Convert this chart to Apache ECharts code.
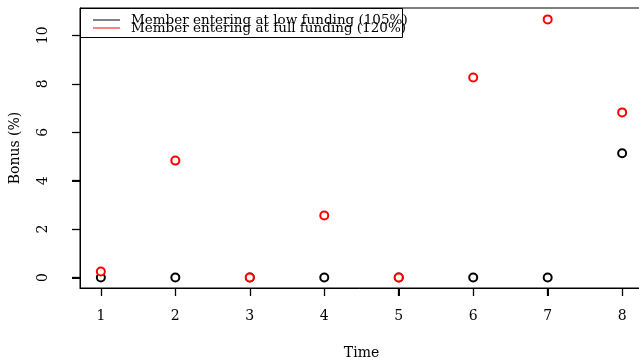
<!DOCTYPE html>
<html><head><meta charset="utf-8">
<script src="https://cdn.jsdelivr.net/npm/echarts@6/dist/echarts.min.js"></script>
<style>html,body{margin:0;padding:0;background:#fff}#c{width:639px;height:362px}</style>
</head><body><div id="c"></div>
<script>
var times = [1, 2, 3, 4, 5, 6, 7, 8];
var lowFunding = [0, 0, 0, 0, 0, 0, 0, 5.13];
var fullFunding = [0.25, 4.83, 0, 2.56, 0, 8.26, 10.66, 6.82];
var xTicks = [1, 2, 3, 4, 5, 6, 7, 8];
var yTicks = [0, 2, 4, 6, 8, 10];
var seriesNames = ['Member entering at low funding (105%)', 'Member entering at full funding (120%)'];

var FONT = 'DejaVu Serif';
var chart = echarts.init(document.getElementById('c'), null, {renderer: 'canvas'});
function pairs(v) { return times.map(function (t, i) { return [t, v[i]]; }); }
function legendOf(name, color, top) {
  return {
    show: true, left: 93, top: top, padding: 0, orient: 'vertical',
    data: [{name: name, icon: 'rect', itemStyle: {color: color, borderWidth: 0, opacity: 1}}],
    itemWidth: 27, itemHeight: 1, itemGap: 0, selectedMode: false,
    textStyle: {fontFamily: FONT, fontSize: 13.5, color: '#000', padding: [0, 0, 0, 6], lineHeight: 14}
  };
}
chart.setOption({
  animation: false,
  backgroundColor: '#fff',
  grid: {left: 80, top: 8, width: 563, height: 280, show: true, borderColor: '#000', borderWidth: 1,
         backgroundColor: 'transparent', containLabel: false, outerBoundsMode: 'none'},
  xAxis: {
    type: 'value', min: 0.72, max: 8.28,
    name: 'Time', nameLocation: 'middle', nameGap: 58,
    nameTextStyle: {fontFamily: FONT, fontSize: 14, color: '#000'},
    axisLine: {show: true, onZero: false, lineStyle: {color: '#000', width: 1}}, splitLine: {show: false},
    axisTick: {show: true, inside: false, length: 8, lineStyle: {color: '#000', width: 1.3}, customValues: xTicks},
    axisLabel: {fontFamily: FONT, fontSize: 14, color: '#000', margin: 21, customValues: xTicks}
  },
  yAxis: {
    type: 'value', min: -0.43, max: 11.13,
    name: 'Bonus (%)', nameLocation: 'middle', nameGap: 58, nameRotate: 90,
    nameTextStyle: {fontFamily: FONT, fontSize: 14, color: '#000'},
    axisLine: {show: true, onZero: false, lineStyle: {color: '#000', width: 1}}, splitLine: {show: false},
    axisTick: {show: true, inside: false, length: 8, lineStyle: {color: '#000', width: 1.3}, customValues: yTicks},
    axisLabel: {fontFamily: FONT, fontSize: 14, color: '#000', margin: 30, rotate: 90, customValues: yTicks}
  },
  graphic: [{type: 'rect', shape: {x: 80.5, y: 8.5, width: 322, height: 29}, style: {fill: 'none', stroke: '#000', lineWidth: 1}, z: 10}],
  legend: [legendOf(seriesNames[0], '#000', 13), legendOf(seriesNames[1], '#ff0000', 21)],
  series: [
    {name: seriesNames[0], type: 'scatter', data: pairs(lowFunding), symbol: 'emptyCircle', symbolSize: 8,
     itemStyle: {color: '#000', borderColor: '#000', borderWidth: 1, opacity: 1}},
    {name: seriesNames[1], type: 'scatter', data: pairs(fullFunding), symbol: 'emptyCircle', symbolSize: 8,
     itemStyle: {color: '#ff0000', borderColor: '#ff0000', borderWidth: 1, opacity: 1}},
    {type: 'custom', silent: true, clip: false, z: 1, coordinateSystem: 'cartesian2d',
     data: xTicks.map(function (t) { return [t, -0.43]; }),
     renderItem: function (params, api) {
       var p = api.coord([api.value(0), api.value(1)]);
       var x = Math.round(p[0]) + 0.5, y = Math.round(p[1]);
       return {type: 'line', shape: {x1: x, y1: y, x2: x, y2: y + 8}, style: {stroke: '#000', lineWidth: 1}};
     }},
    {type: 'custom', silent: true, clip: false, z: 1, coordinateSystem: 'cartesian2d',
     data: yTicks.map(function (t) { return [0.72, t]; }),
     renderItem: function (params, api) {
       var p = api.coord([api.value(0), api.value(1)]);
       var x = Math.round(p[0]), y = Math.round(p[1]) + 0.5;
       return {type: 'line', shape: {x1: x - 8, y1: y, x2: x, y2: y}, style: {stroke: '#000', lineWidth: 1}};
     }}
  ]
});
</script></body></html>
